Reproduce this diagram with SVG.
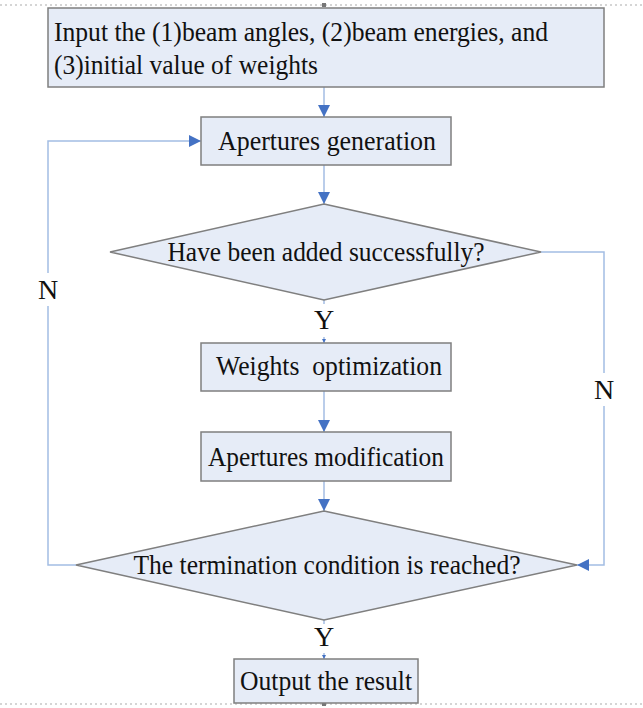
<svg xmlns="http://www.w3.org/2000/svg" width="643" height="708" viewBox="0 0 643 708">
<defs>
<style>
.box{fill:#E6ECF7;stroke:#7F7F7F;stroke-width:1.5}
.t{font-family:"Liberation Serif","Times New Roman",serif;font-size:28px;fill:#111}
.c{text-anchor:middle}
.ln{fill:none;stroke:#A3BDE3;stroke-width:1.5}
.dot{stroke:#C8C8C8;stroke-width:1.5;stroke-dasharray:2 3}
</style>
<marker id="ah" viewBox="0 0 12 12" refX="12" refY="6" markerWidth="12" markerHeight="12" markerUnits="userSpaceOnUse" orient="auto">
<path d="M0,0 L12,6 L0,12 Z" fill="#4472C4"/>
</marker>
<marker id="ahs" viewBox="0 0 4 4" refX="4" refY="2" markerWidth="4" markerHeight="4" markerUnits="userSpaceOnUse" orient="auto">
<path d="M0,0 L4,2 L0,4 Z" fill="#4472C4"/>
</marker>
</defs>
<rect width="643" height="708" fill="#fff"/>
<line class="dot" x1="0" y1="5" x2="643" y2="5"/>
<line class="dot" x1="0" y1="704" x2="643" y2="704"/>
<rect x="322" y="3" width="4" height="4" fill="#777"/>
<rect x="322" y="702" width="4" height="4" fill="#777"/>
<g id="connectors">
<line class="ln" x1="324" y1="87" x2="324" y2="117" marker-end="url(#ah)"/>
<line class="ln" x1="324" y1="165" x2="324" y2="204" marker-end="url(#ah)"/>
<line class="ln" x1="324" y1="300" x2="324" y2="304"/>
<line class="ln" x1="324" y1="337" x2="324" y2="343" marker-end="url(#ahs)"/>
<line class="ln" x1="324" y1="391" x2="324" y2="432" marker-end="url(#ah)"/>
<line class="ln" x1="324" y1="481" x2="324" y2="511" marker-end="url(#ah)"/>
<line class="ln" x1="324" y1="620" x2="324" y2="624"/>
<line class="ln" x1="324" y1="653" x2="324" y2="659" marker-end="url(#ahs)"/>
<polyline class="ln" points="541,252 604,252 604,373"/>
<polyline class="ln" points="604,406 604,565 577,565" marker-end="url(#ah)"/>
<polyline class="ln" points="76,565 48,565 48,306"/>
<polyline class="ln" points="48,273 48,141 201,141" marker-end="url(#ah)"/>
<text class="t c" x="48" y="299">N</text>
<text class="t c" x="604" y="399">N</text>
<text class="t c" x="324" y="329">Y</text>
<text class="t c" x="324" y="646">Y</text>
</g>
<g id="input">
<rect class="box" x="48" y="8" width="556" height="79"/>
<text class="t" x="54" y="41" textLength="494" lengthAdjust="spacingAndGlyphs">Input the (1)beam angles, (2)beam energies, and</text>
<text class="t" x="54" y="74" textLength="264" lengthAdjust="spacingAndGlyphs">(3)initial value of weights</text>
</g>
<g id="generation">
<rect class="box" x="201" y="117" width="250" height="48"/>
<text class="t c" x="327" y="150" textLength="218" lengthAdjust="spacingAndGlyphs">Apertures generation</text>
</g>
<g id="added">
<polygon class="box" points="324,204 541,252 324,300 110,252"/>
<text class="t c" x="326" y="261" textLength="317" lengthAdjust="spacingAndGlyphs">Have been added successfully?</text>
</g>
<g id="weights">
<rect class="box" x="201" y="343" width="250" height="48"/>
<text class="t c" x="329" y="375" textLength="226" lengthAdjust="spacingAndGlyphs" xml:space="preserve">Weights  optimization</text>
</g>
<g id="modification">
<rect class="box" x="201" y="432" width="250" height="49"/>
<text class="t c" x="326" y="466" textLength="236" lengthAdjust="spacingAndGlyphs">Apertures modification</text>
</g>
<g id="termination">
<polygon class="box" points="324,511 577,565 324,620 76,565"/>
<text class="t c" x="327" y="574" textLength="387" lengthAdjust="spacingAndGlyphs">The termination condition is reached?</text>
</g>
<g id="output">
<rect class="box" x="234" y="659" width="184" height="44"/>
<text class="t c" x="326" y="690" textLength="172" lengthAdjust="spacingAndGlyphs">Output the result</text>
</g>
</svg>
